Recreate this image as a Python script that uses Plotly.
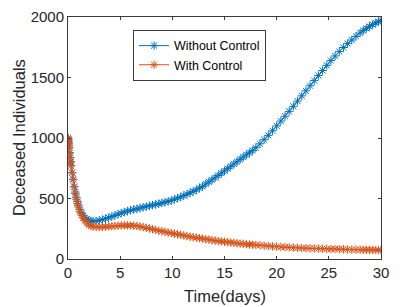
import plotly.graph_objects as go

# Time points (days)
time_days = [0, 0.02, 0.04, 0.06, 0.08, 0.1, 0.15, 0.2, 0.25, 0.3, 0.4, 0.5, 0.6, 0.7, 0.8, 0.9,
             1.0, 1.15, 1.3, 1.45, 1.6, 1.8, 2.0, 2.2, 2.4, 2.7, 3.0, 3.3, 3.6, 3.9, 4.2, 4.5,
             4.8, 5.1, 5.4, 5.7, 6.0, 6.3, 6.6, 6.9, 7.2, 7.5, 7.8, 8.1, 8.4, 8.7, 9.0, 9.3,
             9.6, 9.9, 10.2, 10.5, 10.8, 11.1, 11.4, 11.7, 12.0, 12.3, 12.6, 12.9, 13.2, 13.5,
             13.8, 14.1, 14.4, 14.7, 15.0, 15.3, 15.6, 15.9, 16.2, 16.5, 16.8, 17.1, 17.4, 17.7,
             18.0, 18.4, 18.8, 19.2, 19.6, 20.0, 20.4, 20.8, 21.2, 21.6, 22.0, 22.4, 22.8, 23.2,
             23.6, 24.0, 24.4, 24.8, 25.2, 25.6, 26.0, 26.4, 26.8, 27.2, 27.6, 28.0, 28.3, 28.6,
             28.9, 29.2, 29.5, 29.75, 30.0]

# Deceased individuals without control
without_control = [1000, 990, 975, 958, 940, 922, 880, 840, 805, 772, 712, 655, 600, 553, 510, 475,
                   445, 408, 380, 358, 342, 328, 319, 314, 312, 313, 318, 325, 333, 342, 351, 360,
                   370, 379, 388, 396, 403, 409, 415, 421, 427, 433, 439, 445, 451, 457, 463, 469,
                   476, 483, 494, 503, 513, 524, 535, 547, 559, 572, 586, 600, 620, 637,
                   654, 672, 690, 709, 728, 747, 766, 785, 804, 823, 842, 860, 878, 897,
                   920, 952, 986, 1022, 1060, 1100, 1140, 1180, 1220, 1262, 1305, 1348, 1390, 1432,
                   1474, 1516, 1558, 1600, 1640, 1678, 1714, 1748, 1780, 1810, 1840, 1868, 1888, 1906,
                   1922, 1937, 1951, 1962, 1972]

# Deceased individuals with control
with_control = [1000, 988, 972, 955, 937, 918, 875, 835, 800, 770, 715, 660, 595, 540, 495, 460,
                430, 393, 363, 340, 320, 297, 282, 273, 268, 265, 264, 265, 267, 269, 271, 273,
                275, 277, 278, 278, 277, 275, 272, 268, 263, 258, 252, 246, 240, 234, 229, 224,
                219, 214, 209, 204, 199, 194, 189, 184, 180, 176, 172, 168, 164, 160,
                156, 152, 148, 145, 142, 139, 136, 133, 130, 127, 125, 122, 120, 118,
                116, 113, 110, 107, 104, 102, 100, 98, 96, 94, 92, 91, 89, 88,
                87, 86, 85, 84, 83, 82, 81, 80, 79, 78, 77, 77, 76, 76,
                75, 75, 74, 74, 74]

series_names = ["Without Control", "With Control"]
series_colors = ["#0072BD", "#D95319"]
x_ticks = [0, 5, 10, 15, 20, 25, 30]
y_ticks = [0, 500, 1000, 1500, 2000]
x_title = "Time(days)"
y_title = "Deceased Individuals"

FONT = "Liberation Sans, Arial, Helvetica, sans-serif"
AX = "#3a3a3a"

fig = go.Figure()
for name, ys, col in zip(series_names, [without_control, with_control], series_colors):
    fig.add_trace(go.Scatter(
        x=time_days, y=ys, name=name, mode="lines+markers",
        line=dict(color=col, width=1),
        marker=dict(symbol="asterisk-open", size=7, color=col, line=dict(color=col, width=1)),
    ))

axis_common = dict(
    showline=True, linecolor=AX, linewidth=1, mirror="allticks",
    ticks="inside", ticklen=3, tickwidth=1, tickcolor=AX,
    showgrid=False, zeroline=False, automargin=False,
    tickfont=dict(family=FONT, size=15, color="#262626"),
)

L, R, T, B = 68, 21, 17, 48
fig.update_layout(
    width=402, height=307,
    margin=dict(l=L, r=R, t=T, b=B, autoexpand=False),
    paper_bgcolor="white", plot_bgcolor="white",
    font=dict(family=FONT, color="#262626"),
    showlegend=True,
    legend=dict(
        x=0.208, y=0.946, xanchor="left", yanchor="top",
        bgcolor="white", bordercolor=AX, borderwidth=1,
        font=dict(family=FONT, size=12.4, color="#000000"),
        tracegroupgap=0,
    ),
    xaxis=dict(range=[0, 30], tickvals=x_ticks, **axis_common),
    yaxis=dict(range=[0, 2000], tickvals=y_ticks, **axis_common),
    annotations=[
        dict(text=x_title, xref="paper", yref="paper", x=0.5, y=-37 / 242, xanchor="center",
             yanchor="middle", showarrow=False, font=dict(family=FONT, size=16.5, color="#262626")),
        dict(text=y_title, xref="paper", yref="paper", x=-(68 - 19) / 313, y=0.5, xanchor="center",
             yanchor="middle", textangle=-90, showarrow=False,
             font=dict(family=FONT, size=16.5, color="#262626")),
    ],
)

fig.write_html("out.html", config={"displayModeBar": False},
               post_script="document.body.style.margin='0';document.body.style.overflow='hidden';")
